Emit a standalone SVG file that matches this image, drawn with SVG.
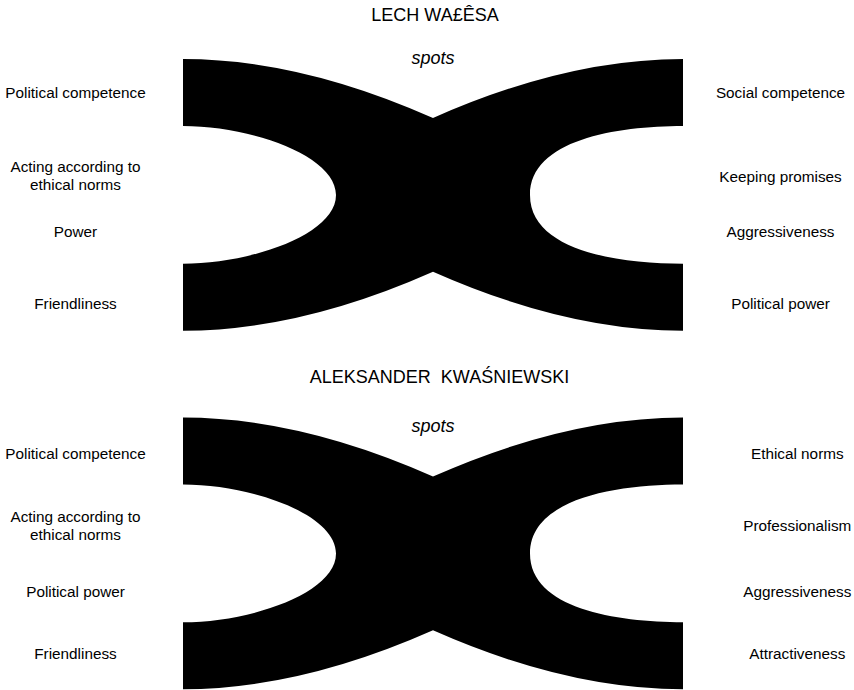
<svg xmlns="http://www.w3.org/2000/svg" width="854" height="690" viewBox="0 0 854 690">
  <style>
    text { font-family: "Liberation Sans", Arial, sans-serif; fill: #000; text-anchor: middle; }
    .title { font-size: 18px; white-space: pre; }
    .spots { font-size: 18px; font-style: italic; }
    .lbl { font-size: 15.3px; }
    .band { fill: #000; }
  </style>
  <defs>
    <!-- X-shaped figure: two bands that meet in the middle -->
    <path id="xshape" d="M183,59 Q300,59 433,118 Q566,59 683,59 L683,126 C616,126 530,140 530,195 C530,250 616,263.7 683,263.7 L683,330.7 Q566,330.7 433,271.7 Q300,330.7 183,330.7 L183,263.7 C250,263.7 336,235 336,195 C336,155 250,126 183,126 Z"/>
  </defs>

  <g id="walesa">
    <g id="walesa-shape"><use href="#xshape" class="band"/></g>
    <g id="walesa-title"><text class="title" x="435" y="21">LECH WA£ÊSA</text></g>
    <g id="walesa-spots"><text class="spots" x="433" y="64">spots</text></g>
    <g id="walesa-left">
      <text class="lbl" x="75.5" y="98.3">Political competence</text>
      <text class="lbl" x="75.5" y="171.7">Acting according to</text>
      <text class="lbl" x="75.5" y="190">ethical norms</text>
      <text class="lbl" x="75.5" y="236.7">Power</text>
      <text class="lbl" x="75.5" y="309.3">Friendliness</text>
    </g>
    <g id="walesa-right">
      <text class="lbl" x="780.5" y="98.3">Social competence</text>
      <text class="lbl" x="780.5" y="181.7">Keeping promises</text>
      <text class="lbl" x="780.5" y="236.7">Aggressiveness</text>
      <text class="lbl" x="780.5" y="309.3">Political power</text>
    </g>
  </g>

  <g id="kwasniewski">
    <g id="kwasniewski-shape"><use href="#xshape" class="band" transform="translate(0,358.6)"/></g>
    <g id="kwasniewski-title"><text class="title" x="439.5" y="382.7" xml:space="preserve">ALEKSANDER  KWAŚNIEWSKI</text></g>
    <g id="kwasniewski-spots"><text class="spots" x="433" y="431.7">spots</text></g>
    <g id="kwasniewski-left">
      <text class="lbl" x="75.5" y="459.3">Political competence</text>
      <text class="lbl" x="75.5" y="521.7">Acting according to</text>
      <text class="lbl" x="75.5" y="540">ethical norms</text>
      <text class="lbl" x="75.5" y="596.7">Political power</text>
      <text class="lbl" x="75.5" y="659.3">Friendliness</text>
    </g>
    <g id="kwasniewski-right">
      <text class="lbl" x="797.3" y="459.3">Ethical norms</text>
      <text class="lbl" x="797.3" y="531">Professionalism</text>
      <text class="lbl" x="797.3" y="596.7">Aggressiveness</text>
      <text class="lbl" x="797.3" y="659.3">Attractiveness</text>
    </g>
  </g>

  <!-- no connectors in this figure -->
  <g id="connectors"/>
</svg>
